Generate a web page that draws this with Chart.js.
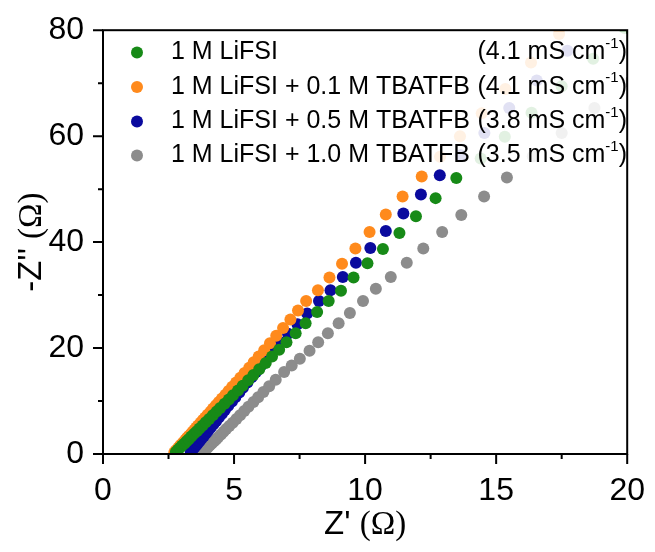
<!DOCTYPE html>
<html>
<head>
<meta charset="utf-8">
<script src="https://cdn.jsdelivr.net/npm/chart.js@4.4.1/dist/chart.umd.min.js"></script>
<style>
  html, body { margin: 0; padding: 0; background: #fff; }
</style>
</head>
<body>
<canvas id="nyquistChart" width="655" height="552"></canvas>
<script>
// Nyquist data, Z' and -Z'' in ohm
const liFsiX = [2.78, 2.86, 2.94, 3.02, 3.11, 3.19, 3.27, 3.37, 3.47, 3.58, 3.68, 3.80, 3.92, 4.05, 4.19, 4.33, 4.47, 4.64, 4.80, 4.96, 5.15, 5.33, 5.54, 5.74, 5.96, 6.21, 6.45, 6.72, 7.00, 7.35, 7.73, 8.17, 8.61, 9.08, 9.56, 10.09, 10.68, 11.31, 11.94, 12.69, 13.48, 14.41, 15.33, 16.35, 17.50, 18.70, 19.90];
const liFsiY = [0.4, 0.8, 1.2, 1.6, 2.0, 2.4, 2.8, 3.3, 3.8, 4.3, 4.8, 5.4, 6.0, 6.6, 7.3, 8.0, 8.7, 9.5, 10.3, 11.1, 12.0, 12.9, 13.9, 14.9, 16.0, 17.2, 18.4, 19.7, 21.1, 22.8, 24.7, 26.8, 28.9, 30.8, 33.3, 36.0, 38.7, 41.7, 44.9, 48.3, 52.1, 55.8, 59.9, 64.4, 69.4, 74.6, 80.4];

const tba01X = [2.72, 2.77, 2.83, 2.88, 2.93, 2.99, 3.04, 3.10, 3.15, 3.20, 3.27, 3.35, 3.42, 3.49, 3.56, 3.63, 3.72, 3.81, 3.90, 3.99, 4.10, 4.20, 4.31, 4.42, 4.54, 4.67, 4.79, 4.93, 5.08, 5.24, 5.40, 5.58, 5.75, 5.94, 6.15, 6.37, 6.61, 6.87, 7.15, 7.44, 7.75, 8.20, 8.64, 9.12, 9.63, 10.17, 10.79, 11.43, 12.16, 12.86, 13.62, 14.45, 15.35, 16.33, 17.40];
const tba01Y = [0.3, 0.6, 0.9, 1.2, 1.5, 1.8, 2.1, 2.4, 2.7, 3.0, 3.4, 3.8, 4.2, 4.6, 5.0, 5.4, 5.9, 6.4, 6.9, 7.4, 8.0, 8.6, 9.2, 9.8, 10.5, 11.2, 11.9, 12.7, 13.5, 14.4, 15.3, 16.3, 17.3, 18.4, 19.6, 20.9, 22.3, 23.8, 25.4, 27.1, 28.9, 30.9, 33.3, 35.9, 38.8, 41.9, 45.2, 48.6, 52.4, 56.1, 60.0, 64.3, 68.9, 73.9, 79.3];

const tba05X = [3.35, 3.42, 3.48, 3.55, 3.61, 3.68, 3.76, 3.85, 3.93, 4.01, 4.11, 4.21, 4.31, 4.42, 4.54, 4.65, 4.78, 4.92, 5.05, 5.20, 5.34, 5.51, 5.67, 5.84, 6.02, 6.20, 6.38, 6.56, 6.76, 7.06, 7.42, 7.79, 8.24, 8.68, 9.15, 9.65, 10.20, 10.79, 11.46, 12.13, 12.85, 13.65, 14.55, 15.50, 16.55, 17.72];
const tba05Y = [0.4, 0.8, 1.2, 1.6, 2.0, 2.4, 2.9, 3.4, 3.9, 4.4, 5.0, 5.6, 6.2, 6.9, 7.6, 8.3, 9.1, 9.9, 10.7, 11.6, 12.5, 13.5, 14.5, 15.5, 16.6, 17.7, 18.8, 19.9, 21.1, 22.7, 24.5, 26.5, 28.9, 30.9, 33.4, 36.1, 38.9, 42.1, 45.4, 49.0, 52.6, 56.4, 60.6, 65.3, 70.5, 76.1];

const tba10X = [3.85, 3.91, 3.99, 4.07, 4.15, 4.24, 4.32, 4.40, 4.50, 4.60, 4.70, 4.82, 4.95, 5.09, 5.23, 5.39, 5.55, 5.74, 5.92, 6.12, 6.34, 6.59, 6.91, 7.20, 7.51, 7.88, 8.21, 8.58, 8.99, 9.42, 9.92, 10.41, 10.98, 11.59, 12.22, 12.94, 13.67, 14.54, 15.41, 16.40, 17.50, 18.75, 20.10];
const tba10Y = [0.5, 0.8, 1.2, 1.6, 2.0, 2.4, 2.8, 3.2, 3.7, 4.2, 4.7, 5.3, 5.9, 6.6, 7.3, 8.1, 8.9, 9.8, 10.7, 11.7, 12.8, 14.0, 15.5, 16.7, 18.0, 19.5, 21.1, 22.8, 24.7, 26.6, 28.9, 31.2, 33.4, 36.1, 38.8, 41.9, 45.1, 48.6, 52.2, 56.2, 60.6, 65.3, 70.2];

const seriesNames = ['1 M LiFSI', '1 M LiFSI + 0.1 M TBATFB', '1 M LiFSI + 0.5 M TBATFB', '1 M LiFSI + 1.0 M TBATFB'];
const conductivities = ['4.1', '4.1', '3.8', '3.5'];
const colors = ['#178a17', '#ff8a1c', '#0a0a9e', '#8c8c8c'];

const xMajorTicks = [0, 5, 10, 15, 20];
const xMinorTicks = [2.5, 7.5, 12.5, 17.5];
const yMajorTicks = [0, 20, 40, 60, 80];
const yMinorTicks = [10, 30, 50, 70];

const SANS = "'Liberation Sans', Arial, sans-serif";
const SERIF = "'Liberation Serif', 'Times New Roman', serif";

const toPoints = (xs, ys) => xs.map((x, i) => ({ x: x, y: ys[i] }));
const seriesData = [
    toPoints(liFsiX, liFsiY),
    toPoints(tba01X, tba01Y),
    toPoints(tba05X, tba05Y),
    toPoints(tba10X, tba10Y)
];

// legend, frame, tick marks and axis titles
const decorPlugin = {
    id: 'decor',
    afterDatasetsDraw(chart) {
        const ctx = chart.ctx;
        const area = chart.chartArea;
        const xs = chart.scales.x;
        const ys = chart.scales.y;

        // semi transparent legend box
        ctx.save();
        ctx.fillStyle = 'rgba(255,255,255,0.88)';
        ctx.fillRect(112, area.top + 1, area.right - 113, 167 - area.top);

        const rowY = [52.5, 87, 121.5, 155.5];
        const rightEdge = 627;
        ctx.textBaseline = 'middle';
        seriesNames.forEach((name, i) => {
            const y = rowY[i];
            ctx.fillStyle = colors[i];
            ctx.beginPath();
            ctx.arc(137, y, 6, 0, Math.PI * 2);
            ctx.fill();

            ctx.fillStyle = '#000';
            ctx.font = '25px ' + SANS;
            ctx.textAlign = 'left';
            ctx.fillText(name, 171, y);

            const main = '(' + conductivities[i] + ' mS cm';
            const wMain = ctx.measureText(main).width;
            const wClose = ctx.measureText(')').width;
            ctx.font = '15px ' + SANS;
            const wSup = ctx.measureText('-1').width;
            let x0 = rightEdge - wMain - wSup - wClose;
            ctx.font = '25px ' + SANS;
            ctx.fillText(main, x0, y);
            ctx.font = '15px ' + SANS;
            ctx.fillText('-1', x0 + wMain, y - 9);
            ctx.font = '25px ' + SANS;
            ctx.fillText(')', x0 + wMain + wSup, y);
        });
        ctx.restore();

        // frame
        ctx.save();
        ctx.strokeStyle = '#000';
        ctx.lineWidth = 2;
        ctx.strokeRect(area.left, area.top, area.right - area.left, area.bottom - area.top);

        // outward ticks
        ctx.beginPath();
        xMajorTicks.forEach(v => {
            const px = xs.getPixelForValue(v);
            ctx.moveTo(px, area.bottom);
            ctx.lineTo(px, area.bottom + 10);
        });
        xMinorTicks.forEach(v => {
            const px = xs.getPixelForValue(v);
            ctx.moveTo(px, area.bottom);
            ctx.lineTo(px, area.bottom + 5);
        });
        yMajorTicks.forEach(v => {
            const py = ys.getPixelForValue(v);
            ctx.moveTo(area.left, py);
            ctx.lineTo(area.left - 10, py);
        });
        yMinorTicks.forEach(v => {
            const py = ys.getPixelForValue(v);
            ctx.moveTo(area.left, py);
            ctx.lineTo(area.left - 5, py);
        });
        ctx.stroke();
        ctx.restore();

        // axis titles, omega in a serif face
        ctx.save();
        ctx.fillStyle = '#000';
        ctx.textBaseline = 'middle';
        ctx.textAlign = 'left';
        const drawTitle = (prefix, cx, cy) => {
            ctx.font = '33px ' + SANS;
            const w1 = ctx.measureText(prefix).width;
            ctx.font = '33px ' + SERIF;
            const w2 = ctx.measureText('(\u03A9)').width;
            const start = cx - (w1 + w2) / 2;
            ctx.font = '33px ' + SANS;
            ctx.fillText(prefix, start, cy);
            ctx.font = '33px ' + SERIF;
            ctx.fillText('(\u03A9)', start + w1, cy);
        };
        drawTitle("Z' ", (area.left + area.right) / 2, 525);
        ctx.translate(32, (area.top + area.bottom) / 2);
        ctx.rotate(-Math.PI / 2);
        drawTitle("-Z'' ", 0, 0);
        ctx.restore();
    }
};

const ctx = document.getElementById('nyquistChart').getContext('2d');

new Chart(ctx, {
    type: 'scatter',
    data: {
        datasets: seriesData.map((pts, i) => ({
            label: seriesNames[i],
            data: pts,
            pointRadius: 6,
            pointBorderWidth: 0,
            pointBackgroundColor: colors[i],
            borderColor: colors[i]
        }))
    },
    options: {
        responsive: false,
        animation: false,
        devicePixelRatio: 1,
        events: [],
        layout: { padding: { top: 28, right: 25, left: 0, bottom: 0 } },
        plugins: {
            legend: { display: false },
            tooltip: { enabled: false }
        },
        scales: {
            x: {
                type: 'linear',
                min: 0,
                max: 20,
                grid: { display: false },
                border: { display: false },
                ticks: {
                    stepSize: 5,
                    padding: 10,
                    color: '#000',
                    font: { family: SANS, size: 32 }
                },
                afterFit: scale => { scale.height = 98; }
            },
            y: {
                type: 'linear',
                min: 0,
                max: 80,
                grid: { display: false },
                border: { display: false },
                ticks: {
                    stepSize: 20,
                    padding: 11,
                    color: '#000',
                    font: { family: SANS, size: 32 }
                },
                afterFit: scale => { scale.width = 103; }
            }
        }
    },
    plugins: [decorPlugin]
});
</script>
</body>
</html>
